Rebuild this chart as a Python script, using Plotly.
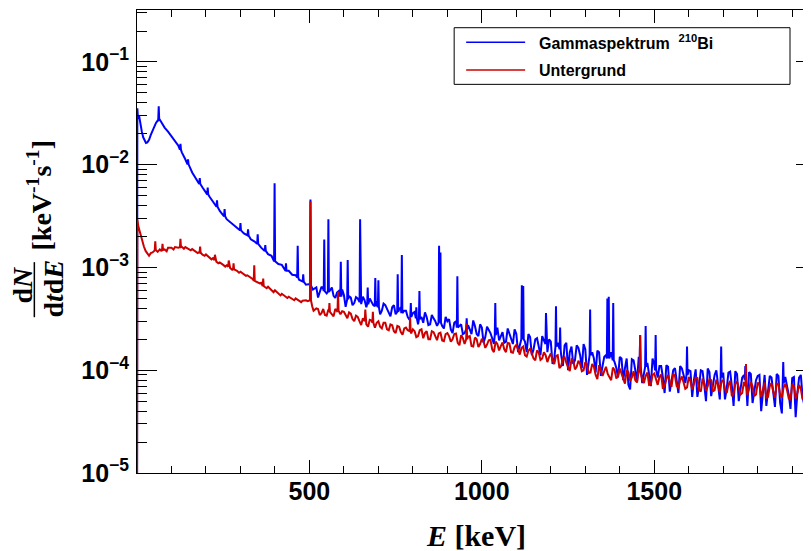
import plotly.graph_objects as go

# All rates are given in units of 1e-6 keV^-1 s^-1
UNIT = 1e-6

# ---------------- Gammaspektrum 210Bi (blue) ----------------
blue_low_E = [0, 1, 3, 6, 10, 14, 18, 22, 26, 30, 35, 40, 45, 50, 55, 60, 66, 72, 80, 90,
              100, 110, 120, 130, 140, 150, 160, 170, 180, 190, 200, 210, 220, 230, 240, 250,
              260, 270, 280, 290, 300, 310, 320, 330, 340, 350, 360, 370, 380, 390, 400, 410,
              420, 430, 440, 450, 460, 470, 480, 490, 500, 510]
blue_low_rate = [1, 35500, 28000, 30000, 24000, 21000, 18500, 17000, 16300, 16500, 17500, 19500,
                 21500, 23500, 25500, 27000, 27500, 25500, 23000, 21000, 19000, 17200, 15300,
                 13200, 11300, 9800, 8400, 7300, 6600, 6000, 5400, 4900, 4400, 3950, 3550, 3250,
                 2950, 2750, 2600, 2400, 2300, 2150, 2050, 1880, 1800, 1700, 1560, 1500, 1350,
                 1300, 1200, 1080, 1060, 950, 930, 850, 840, 760, 750, 680, 690, 610]

# 10 keV grid and the interleaved half-step grid of the noisy high-energy part
grid_E = [520, 530, 540, 550, 560, 570, 580, 590, 600, 610, 620, 630, 640, 650, 660, 670,
          680, 690, 700, 710, 720, 730, 740, 750, 760, 770, 780, 790, 800, 810, 820, 830,
          840, 850, 860, 870, 880, 890, 900, 910, 920, 930, 940, 950, 960, 970, 980, 990,
          1000, 1010, 1020, 1030, 1040, 1050, 1060, 1070, 1080, 1090, 1100, 1110, 1120, 1130,
          1140, 1150, 1160, 1170, 1180, 1190, 1200, 1210, 1220, 1230, 1240, 1250, 1260, 1270,
          1280, 1290, 1300, 1310, 1320, 1330, 1340, 1350, 1360, 1370, 1380, 1390, 1400, 1410,
          1420, 1430, 1440, 1450, 1460, 1470, 1480, 1490, 1500, 1510, 1520, 1530, 1540, 1550,
          1560, 1570, 1580, 1590, 1600, 1610, 1620, 1630, 1640, 1650, 1660, 1670, 1680, 1690,
          1700, 1710, 1720, 1730, 1740, 1750, 1760, 1770, 1780, 1790, 1800, 1810, 1820, 1830,
          1840, 1850, 1860, 1870, 1880, 1890, 1900, 1910, 1920, 1930, 1940, 1950, 1960]
half_E = [525, 535, 545, 555, 565, 575, 585, 595, 605, 615, 625, 635, 645, 655, 665, 675,
          685, 695, 705, 715, 725, 735, 745, 755, 765, 775, 785, 795, 805, 815, 825, 835,
          845, 855, 865, 875, 885, 895, 905, 915, 925, 935, 945, 955, 965, 975, 985, 995,
          1005, 1015, 1025, 1035, 1045, 1055, 1065, 1075, 1085, 1095, 1105, 1115, 1125, 1135,
          1145, 1155, 1165, 1175, 1185, 1195, 1205, 1215, 1225, 1235, 1245, 1255, 1265, 1275,
          1285, 1295, 1305, 1315, 1325, 1335, 1345, 1355, 1365, 1375, 1385, 1395, 1405, 1415,
          1425, 1435, 1445, 1455, 1465, 1475, 1485, 1495, 1505, 1515, 1525, 1535, 1545, 1555,
          1565, 1575, 1585, 1595, 1605, 1615, 1625, 1635, 1645, 1655, 1665, 1675, 1685, 1695,
          1705, 1715, 1725, 1735, 1745, 1755, 1765, 1775, 1785, 1795, 1805, 1815, 1825, 1835,
          1845, 1855, 1865, 1875, 1885, 1895, 1905, 1915, 1925, 1935, 1945, 1955]

blue_grid_rate = [640, 570, 620, 560, 600, 530, 570, 500, 540, 470, 510, 450, 500, 440, 480, 420,
                  460, 410, 440, 380, 430, 370, 410, 350, 390, 330, 380, 310, 360, 300, 350, 290,
                  330, 280, 320, 270, 310, 255, 300, 250, 290, 240, 280, 230, 275, 225, 270, 215,
                  260, 210, 250, 205, 245, 195, 235, 190, 230, 180, 225, 175, 215, 150, 210, 160,
                  205, 140, 195, 150, 190, 130, 185, 140, 175, 100, 170, 125, 165, 105, 160, 120,
                  150, 95, 150, 110, 140, 75, 140, 105, 135, 80, 130, 65, 125, 78, 120, 90,
                  118, 70, 115, 85, 110, 60, 108, 80, 105, 60, 104, 75, 100, 55, 102, 70,
                  98, 50, 96, 68, 100, 52, 95, 66, 97, 45, 92, 64, 90, 45, 92, 62,
                  88, 40, 90, 60, 85, 44, 88, 38, 86, 58, 84, 35, 85, 55, 80, 40, 82]
blue_half_rate = [510, 650, 600, 520, 640, 505, 590, 610,
                  415, 525, 430, 515, 470, 520, 410, 500, 430, 470,
                  350, 445, 400, 335, 430, 340, 410, 380, 330, 395,
                  370, 280, 330, 365, 275, 345, 300, 355, 270, 330,
                  315, 230, 300, 270, 225, 300, 250, 305, 225, 280,
                  185, 265, 230, 180, 260, 215, 185, 255, 200, 250,
                  150, 220, 190, 225, 140, 200, 170, 215, 145, 200,
                  115, 180, 160, 110, 185, 150, 115, 175, 140, 180,
                  90, 155, 130, 155, 88, 135, 100, 150, 120, 85,
                  130, 105, 72, 128, 100, 135, 75, 115, 90, 130,
                  65, 110, 85, 112, 62, 100, 75, 110, 90, 60,
                  98, 80, 55, 100, 72, 104, 56, 90, 75, 100,
                  52, 95, 70, 98, 50, 85, 65, 96, 48, 80,
                  90, 62, 45, 88, 58, 92, 48, 80, 70, 42, 86, 60, 90, 46, 78, 60]

blue_peak_E = [63, 126, 148, 182, 205, 232, 254, 300, 322, 350, 372, 399, 432, 466, 482, 503,
               543, 555, 591, 611, 647, 669, 691, 700, 756, 768, 794, 810, 819, 876, 880, 929,
               956, 1039, 1116, 1120, 1186, 1215, 1227, 1314, 1364, 1368, 1381, 1459, 1475,
               1504, 1595, 1694, 1764, 1874]
blue_peak_base = [27000, 14000, 10100, 6500, 5150, 3900, 3150, 2300, 2050, 1700, 1450, 1150, 930,
                  800, 730, 670, 590, 580, 520, 490, 460, 440, 420, 410, 370, 360, 330, 320,
                  315, 290, 290, 260, 250, 220, 200, 200, 180, 170, 160, 140, 130, 130, 125, 110,
                  108, 100, 90, 85, 80, 75]
blue_peak_top = [37000, 16000, 11300, 7400, 6000, 4500, 3700, 2700, 2350, 2100, 1650, 6600, 1100,
                 1630, 860, 4600, 1870, 2940, 1140, 1180, 2940, 640, 790, 750, 860, 1320, 450,
                 410, 590, 1630, 1400, 820, 320, 450, 670, 660, 360, 420, 260, 390, 500, 520, 450,
                 220, 270, 220, 170, 170, 110, 120]

# ---------------- Untergrund (red) ----------------
red_low_E = [0, 1, 4, 8, 12, 16, 20, 25, 30, 35, 40, 45, 50, 60, 66, 70, 80, 86, 90, 100, 106,
             110, 120, 130, 136, 140, 150, 156, 160, 170, 176, 180, 190, 196, 200, 210, 216,
             220, 230, 236, 240, 250, 256, 260, 270, 276, 290, 296, 300, 310, 316, 320, 330,
             336, 350, 356, 360, 370, 376, 380, 390, 396, 400, 410, 416, 420, 430, 436, 440,
             450, 456, 460, 470, 476, 480, 490, 495, 508, 512]
red_low_rate = [1, 2900, 2500, 2200, 1950, 1750, 1600, 1450, 1350, 1300, 1380, 1400, 1450, 1420,
                1500, 1460, 1500, 1440, 1560, 1560, 1500, 1580, 1560, 1590, 1520, 1580, 1520,
                1470, 1510, 1430, 1380, 1410, 1330, 1300, 1340, 1240, 1200, 1230, 1140, 1100,
                1120, 1060, 1020, 1050, 990, 950, 930, 890, 910, 860, 830, 840, 800, 770, 720,
                700, 710, 650, 630, 650, 595, 575, 600, 550, 535, 555, 520, 505, 520, 495, 480,
                500, 470, 460, 475, 480, 470, 420, 380]

red_grid_rate = [400, 345, 395, 340, 385, 335, 375, 350, 370, 320, 355, 300, 330, 275, 315, 265,
                 305, 260, 300, 255, 290, 245, 275, 230, 265, 222, 260, 215, 250, 210, 245, 205,
                 240, 200, 235, 196, 232, 192, 230, 190, 225, 185, 220, 180, 212, 172, 208, 168,
                 202, 165, 196, 160, 190, 156, 186, 150, 182, 148, 176, 142, 170, 136, 162, 130,
                 156, 126, 150, 120, 146, 115, 140, 110, 134, 106, 128, 102, 124, 98, 120, 94,
                 115, 90, 112, 88, 108, 85, 106, 83, 104, 80, 100, 79, 98, 76, 96, 75,
                 95, 73, 93, 72, 91, 70, 90, 69, 88, 68, 87, 66, 86, 65, 85, 64,
                 83, 63, 82, 62, 81, 61, 80, 60, 79, 59, 78, 58, 77, 57, 77, 56,
                 76, 55, 76, 55, 75, 54, 74, 54, 74, 53, 73, 53, 72, 52, 72, 52, 71]
red_half_rate = [395, 360, 345, 390, 350, 395, 340, 375,
                 345, 365, 315, 340, 300, 320, 280, 310, 270, 290,
                 265, 290, 250, 280, 240, 270, 235, 255, 245, 228,
                 240, 215, 250, 230, 200, 240, 210, 228, 195, 225,
                 215, 200, 228, 175, 205, 195, 215, 170, 200, 180,
                 190, 178, 198, 150, 180, 172, 160, 185, 150, 168,
                 160, 165, 140, 155, 145, 125, 148, 130, 140, 135,
                 125, 138, 105, 130, 118, 98, 125, 108, 115, 100,
                 112, 95, 108, 82, 100, 98, 92, 80, 100, 88,
                 92, 74, 96, 85, 80, 100, 82, 88, 72, 90,
                 80, 86, 66, 82, 78, 92, 70, 80, 76, 68,
                 78, 74, 84, 62, 76, 70, 80, 64, 72, 78,
                 66, 72, 56, 74, 68, 60, 75, 66, 70, 58,
                 72, 64, 54, 70, 62, 74, 58, 68, 64, 52, 70, 60, 66, 56, 72, 60]

red_peak_E = [53, 74, 126, 183, 226, 266, 280, 340, 366, 503, 558, 583, 662, 684, 792, 956,
              1459, 1766]
red_peak_base = [1480, 1480, 1580, 1400, 1180, 1020, 960, 740, 660, 480, 370, 380, 300, 290, 240,
                 200, 95, 70]
red_peak_top = [1800, 1700, 1900, 1600, 1330, 1170, 1100, 1050, 780, 4400, 450, 580, 390, 370,
                330, 285, 220, 115]

LEGEND_BLUE = "Gammaspektrum\u00a0\u00a0<sup>210</sup>Bi"
LEGEND_RED = "Untergrund"


def build(low_E, low_r, grid_r, half_r, pk_E, pk_base, pk_top):
    pts = list(zip(low_E, low_r)) + list(zip(grid_E, grid_r)) + list(zip(half_E, half_r))
    pts = [(e, r) for e, r in pts if all(abs(e - p) > 2 for p in pk_E)]
    for e, b, t in zip(pk_E, pk_base, pk_top):
        pts += [(e - 1.5, b), (e, t), (e + 1.5, b)]
    pts.sort()
    return [p[0] for p in pts], [p[1] * UNIT for p in pts]


bx, by = build(blue_low_E, blue_low_rate, blue_grid_rate, blue_half_rate,
               blue_peak_E, blue_peak_base, blue_peak_top)
rx, ry = build(red_low_E, red_low_rate, red_grid_rate, red_half_rate,
               red_peak_E, red_peak_base, red_peak_top)

BLUE = "#0000ff"
RED = "#cc0000"
SANS = "Liberation Sans"
SERIF = "Liberation Serif"

fig = go.Figure()
fig.add_trace(go.Scatter(x=bx, y=by, mode="lines", name="Gammaspektrum 210Bi",
                         line=dict(color=BLUE, width=2)))
fig.add_trace(go.Scatter(x=rx, y=ry, mode="lines", name="Untergrund",
                         line=dict(color=RED, width=2)))

W, H = 811, 551
OFF = 8  # page offset of the figure inside the browser window
ML, MR, MT, MB = 128.7, 3, 2, 86.3
PW, PH = W - ML - MR, H - MT - MB


def px(vx):
    return (vx - OFF - ML) / PW


def py(vy):
    return (H - MB - (vy - OFF)) / PH


fig.update_layout(
    width=W, height=H,
    margin=dict(l=ML, r=MR, t=MT, b=MB, pad=0),
    paper_bgcolor="white", plot_bgcolor="white",
    showlegend=False,
    xaxis=dict(
        range=[0, 1969], showgrid=False, zeroline=False,
        showline=True, linecolor="black", linewidth=1, mirror="allticks",
        ticks="inside", ticklen=13, tickwidth=1, tickcolor="black",
        tickmode="array", tickvals=[500, 1000, 1500],
        tickfont=dict(family=SANS, size=25, color="black", weight="bold"),
        ticklabelstandoff=-4,
        minor=dict(ticks="inside", ticklen=7, tickwidth=1, tickcolor="black",
                   tickmode="linear", tick0=0, dtick=100, showgrid=False),
        title=dict(text="<i>E</i> [keV]", standoff=20,
                   font=dict(family=SERIF, size=30, color="black", weight="bold")),
    ),
    yaxis=dict(
        type="log", range=[-5, -0.494], showgrid=False, zeroline=False,
        showline=True, linecolor="black", linewidth=1, mirror="allticks",
        ticks="inside", ticklen=20, tickwidth=1, tickcolor="black",
        tickmode="linear", tick0=0, dtick=1, exponentformat="power",
        tickfont=dict(family=SANS, size=20, color="black", weight="bold"),
        ticklabelstandoff=3,
        minor=dict(ticks="inside", ticklen=10, tickwidth=1, tickcolor="black",
                   dtick="D1", showgrid=False),
    ),
)

# y-axis title: fraction dN / (dt dE) and unit, rotated
title_font = dict(family=SERIF, size=28, color="black", weight="bold")
fig.add_annotation(xref="paper", yref="paper", x=px(22), y=py(284), text="d<i>N</i>",
                   textangle=-90, showarrow=False, font=title_font,
                   xanchor="center", yanchor="middle")
fig.add_annotation(xref="paper", yref="paper", x=px(53), y=py(288), text="d<i>t</i>d<i>E</i>",
                   textangle=-90, showarrow=False, font=title_font,
                   xanchor="center", yanchor="middle")
fig.add_shape(type="line", xref="paper", yref="paper", x0=px(34), x1=px(34),
              y0=py(262), y1=py(317), line=dict(color="black", width=1.5))
fig.add_annotation(xref="paper", yref="paper", x=px(39), y=py(195),
                   text="[keV<sup>-1</sup>s<sup>-1</sup>]",
                   textangle=-90, showarrow=False, font=title_font,
                   xanchor="center", yanchor="middle")

# legend box
fig.add_shape(type="rect", xref="paper", yref="paper", x0=px(454), x1=px(790),
              y0=py(84.3), y1=py(27.7), line=dict(color="black", width=1),
              fillcolor="white", layer="above")
for yy, col, txt in [(42.3, BLUE, LEGEND_BLUE), (70, RED, LEGEND_RED)]:
    fig.add_shape(type="line", xref="paper", yref="paper", x0=px(466), x1=px(525),
                  y0=py(yy), y1=py(yy), line=dict(color=col, width=1.5), layer="above")
    fig.add_annotation(xref="paper", yref="paper", x=px(537), y=py(yy), text=txt,
                       showarrow=False, xanchor="left", yanchor="middle",
                       font=dict(family=SANS, size=16, color="black", weight="bold"))

fig.write_html("out.html")
